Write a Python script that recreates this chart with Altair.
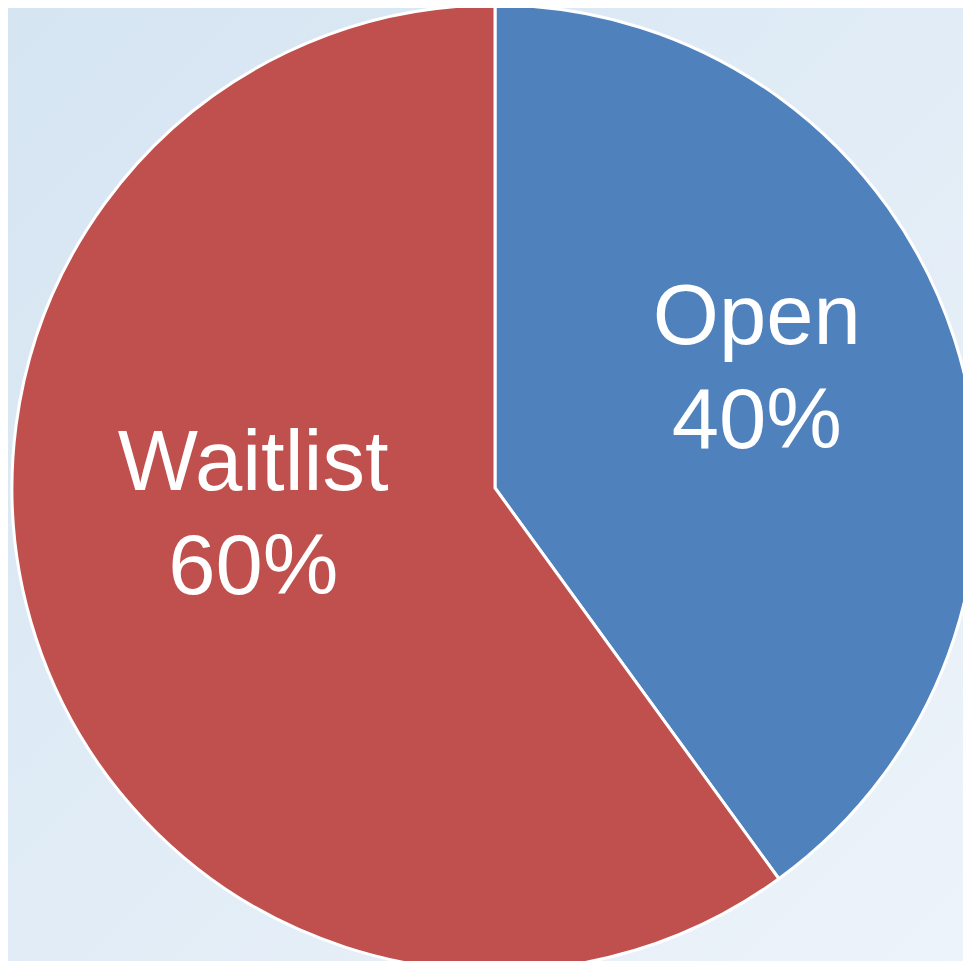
import altair as alt
import pandas as pd

categories = ["Open", "Waitlist"]
shares = [40, 60]
labels = ["Open\n40%", "Waitlist\n60%"]
colors = ["#4f81bd", "#c0504d"]

df = pd.DataFrame({"category": categories, "share": shares, "label": labels, "ord": [0, 1]})

W, H = 955, 953
CX, CY = 487, 480

bg = alt.Chart(pd.DataFrame({"k": [0]})).mark_rect(
    color=alt.Gradient(
        gradient="linear",
        stops=[alt.GradientStop(color="#d5e5f2", offset=0),
               alt.GradientStop(color="#edf3fa", offset=1)],
        x1=0, y1=0, x2=1, y2=1,
    )
).encode(x=alt.value(0), x2=alt.value(W), y=alt.value(0), y2=alt.value(H))

theta_scale = alt.Scale(domain=[0, 100])

base = alt.Chart(df).transform_window(
    cum="sum(share)", sort=[alt.SortField("ord")]
).transform_calculate(
    start="datum.cum - datum.share",
    mid="datum.cum - datum.share / 2",
)

pie = base.mark_arc(radius=483, stroke="white", strokeWidth=3).encode(
    theta=alt.Theta("start:Q", scale=theta_scale),
    theta2="cum:Q",
    x=alt.value(CX), y=alt.value(CY),
    color=alt.Color("category:N", scale=alt.Scale(domain=categories, range=colors), legend=None),
)

txt_common = dict(radius=290, fontSize=85, font="Liberation Sans", color="white",
                  lineBreak="\n", lineHeight=104, align="center", baseline="middle")

def label_layer(cat, dx, dy):
    return base.transform_filter(alt.datum.category == cat).mark_text(
        dx=dx, dy=dy, **txt_common
    ).encode(
        theta=alt.Theta("mid:Q", scale=theta_scale),
        x=alt.value(CX), y=alt.value(CY),
        text="label:N",
    )

t_open = label_layer("Open", -14, -80)
t_wait = label_layer("Waitlist", 34, -114)

chart = alt.layer(bg, pie, t_open, t_wait).properties(
    width=W, height=H, padding=0,
    autosize=alt.AutoSizeParams(type="none"),
    background="#d5e5f2",
).configure_view(stroke=None)

chart.save("out.html", embed_options={"renderer": "svg", "actions": False})
